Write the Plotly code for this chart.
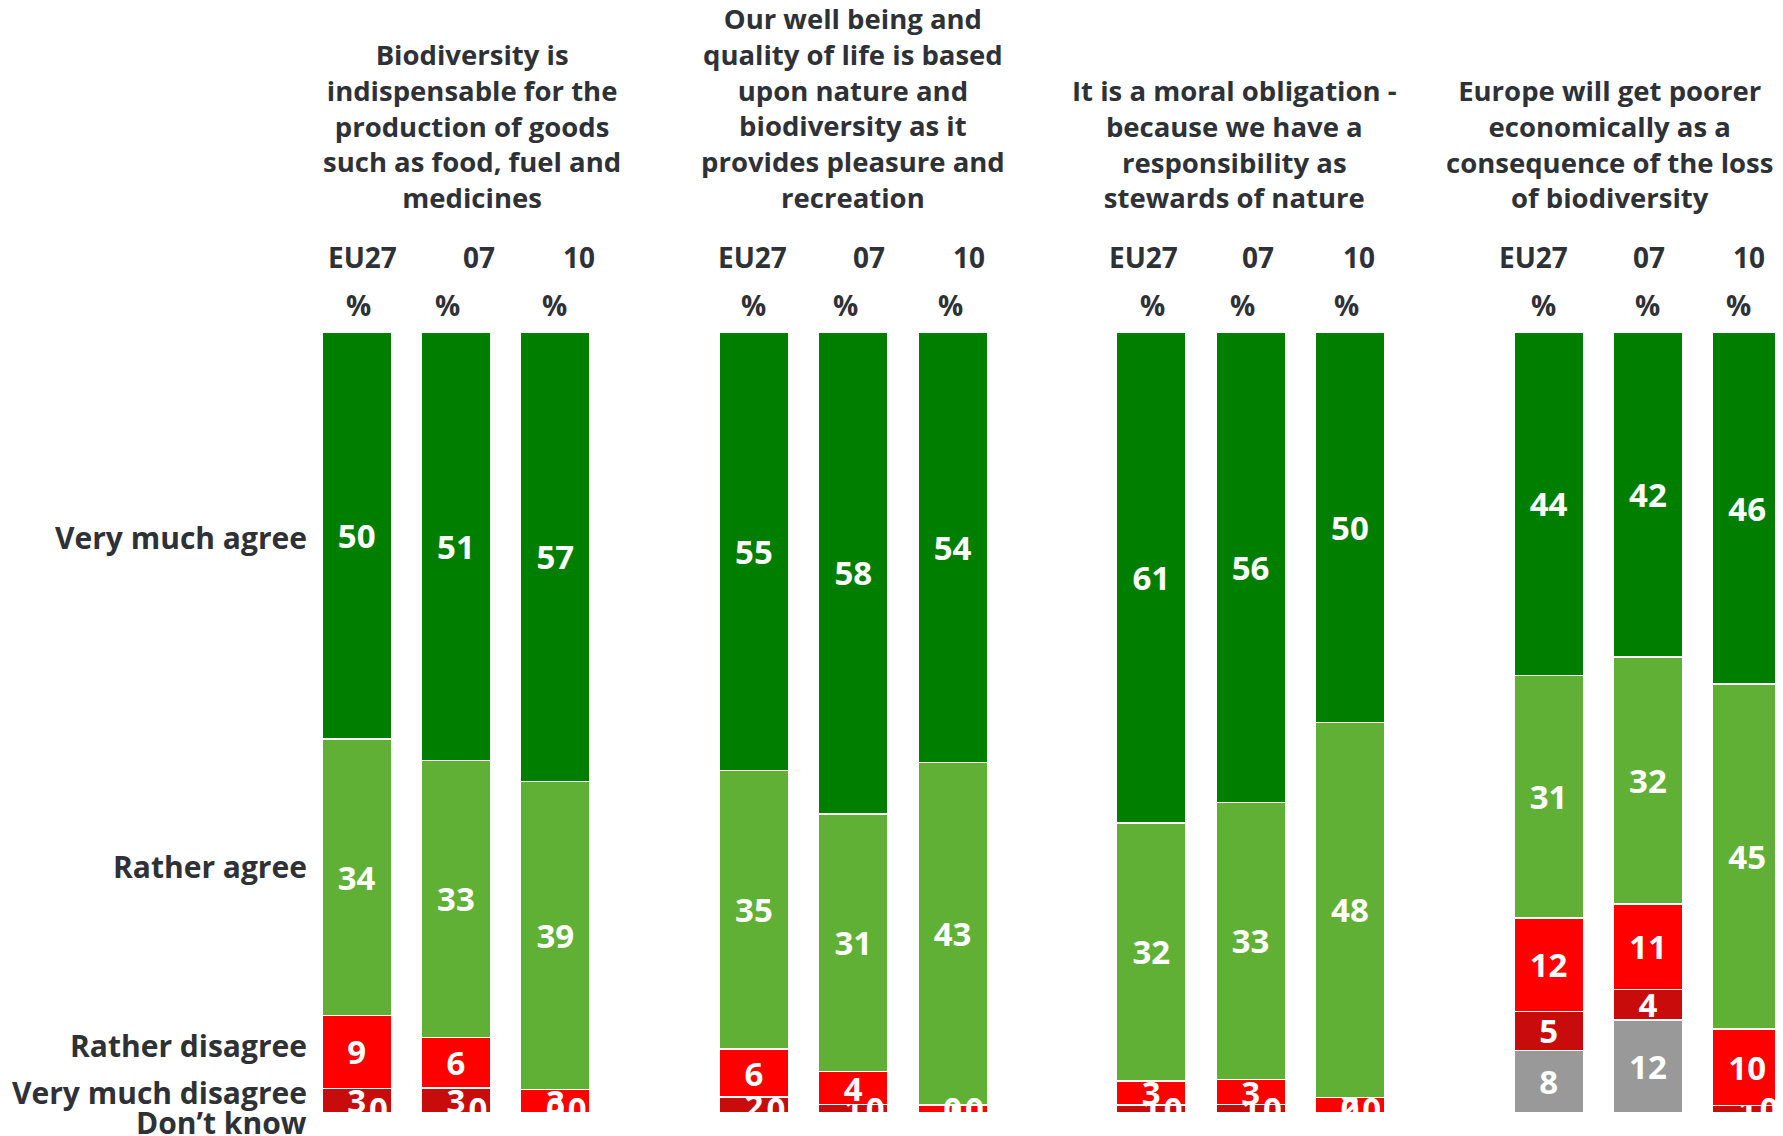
import plotly.graph_objects as go

# ---------------- data ----------------
statements = [
    "Biodiversity is<br>indispensable for the<br>production of goods<br>such as food, fuel and<br>medicines",
    "Our well being and<br>quality of life is based<br>upon nature and<br>biodiversity as it<br>provides pleasure and<br>recreation",
    "It is a moral obligation -<br>because we have a<br>responsibility as<br>stewards of nature",
    "Europe will get poorer<br>economically as a<br>consequence of the loss<br>of biodiversity",
]
countries = ["EU27", "07", "10"]

very_much_agree    = [50, 51, 57, 55, 58, 54, 61, 56, 50, 44, 42, 46]
rather_agree       = [34, 33, 39, 35, 31, 43, 32, 33, 48, 31, 32, 45]
rather_disagree    = [9, 6, 3, 6, 4, 1, 3, 3, 2, 12, 11, 10]
very_much_disagree = [3, 3, 0, 2, 1, 0, 1, 1, 0, 5, 4, 1]
dont_know          = [0, 0, 0, 0, 0, 0, 0, 0, 0, 8, 12, 0]

answer_names = ["Don’t know", "Very much disagree", "Rather disagree", "Rather agree", "Very much agree"]
series = [dont_know, very_much_disagree, rather_disagree, rather_agree, very_much_agree]
colors = ["#999999", "#C80C0C", "#FF0000", "#60B035", "#007E00"]

# ---------------- layout helpers ----------------
n_groups = len(statements)
slot = [g * (len(countries) + 1) + i for g in range(n_groups) for i in range(len(countries))]
totals = [sum(s[k] for s in series) for k in range(len(slot))]

TXT = "#2E3136"
FONT = "Open Sans"
HW = "bold"

fig = go.Figure()
for name, vals, col in zip(answer_names, series, colors):
    fig.add_trace(go.Bar(
        x=slot, y=vals, name=name,
        marker=dict(color=col, line=dict(color="white", width=1.5)),
        text=[str(v) if v != 0 else "" for v in vals],
        texttemplate="%{text}",
        textposition="inside", insidetextanchor="middle",
        constraintext="none", textangle=0,
        textfont=dict(family=FONT, size=33, color="white", weight="bold"),
        width=0.7, hoverinfo="skip", showlegend=False,
    ))

# zero-value labels, placed at their stack position
zx, zy, zt = [], [], []
cum = [0] * len(slot)
for si, vals in enumerate(series):
    for k, v in enumerate(vals):
        if v == 0:
            zx.append(slot[k] + (0.22 if si == 0 else 0.0))
            zy.append(100.0 * cum[k] / totals[k])
            zt.append("0")
        cum[k] += v
fig.add_trace(go.Scatter(
    x=zx, y=zy, text=zt, mode="text", textposition="middle center",
    textfont=dict(family=FONT, size=33, color="white", weight="bold"),
    hoverinfo="skip", showlegend=False, cliponaxis=True,
))

annotations = []
title_shift = [16, 0, -16, -38]
head_shift = [[6, 23, 24], [-1, 16, 16], [-8, 7, 9], [-15, 1, 2]]
pct_shift = [[2, -8, -1], [0, -8, -2], [1, -8, -3], [-5, 0, -9]]
for g in range(n_groups):
    annotations.append(dict(
        x=slot[g * 3 + 1], y=1, xref="x", yref="paper", text=statements[g],
        xanchor="center", yanchor="bottom", yshift=114, xshift=title_shift[g],
        showarrow=False, align="center",
        font=dict(family=FONT, size=27.5, color=TXT, weight=HW),
    ))
    for i, c in enumerate(countries):
        annotations.append(dict(
            x=slot[g * 3 + i], y=1, xref="x", yref="paper", text=c,
            xanchor="center", yanchor="middle", yshift=75, xshift=head_shift[g][i],
            showarrow=False,
            font=dict(family=FONT, size=28, color=TXT, weight=HW),
        ))
        annotations.append(dict(
            x=slot[g * 3 + i], y=1, xref="x", yref="paper", text="%",
            xanchor="center", yanchor="middle", yshift=27, xshift=pct_shift[g][i],
            showarrow=False,
            font=dict(family=FONT, size=28, color=TXT, weight=HW),
        ))

row_y = [0.7375, 0.316, 0.0858, 0.026, -0.012]
row_names = ["Very much agree", "Rather agree", "Rather disagree", "Very much disagree", "Don’t know"]
for nm, yy in zip(row_names, row_y):
    annotations.append(dict(
        x=0, y=yy, xref="paper", yref="paper", text=nm,
        xanchor="right", yanchor="middle", xshift=2, showarrow=False,
        font=dict(family=FONT, size=30, color=TXT, weight=HW),
    ))

# the page body adds an 8px margin, so the figure is sized to fit inside the window
fig.update_layout(
    width=1775, height=1128,
    margin=dict(l=299, r=1, t=324, b=23),
    barmode="stack", barnorm="percent",
    paper_bgcolor="white", plot_bgcolor="white",
    xaxis=dict(range=[-0.5, 14.35], visible=False, fixedrange=True),
    yaxis=dict(range=[0, 100], visible=False, fixedrange=True),
    annotations=annotations,
    showlegend=False,
)

fig.write_html("out.html")
